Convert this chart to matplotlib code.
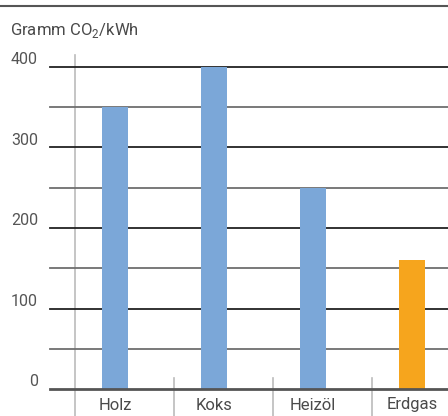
import matplotlib.pyplot as plt
from matplotlib.transforms import blended_transform_factory

# data
categories = ['Holz', 'Koks', 'Heizöl', 'Erdgas']
values = [350, 400, 250, 160]
bar_colors = ['#7ba7d8', '#7ba7d8', '#7ba7d8', '#f6a51d']
y_ticks = [0, 100, 200, 300, 400]
grid_major = [100, 200, 300, 400]
grid_minor = [50, 150, 250, 350]

W, H = 448, 416
plt.rcParams['font.family'] = ['Roboto', 'DejaVu Sans']
fig = plt.figure(figsize=(W / 100, H / 100), dpi=100)

# axes: left at px 50, right at px 448, y=0 at px 389, y=400 at px 67
ax = fig.add_axes([50 / W, (H - 389) / H, 398 / W, (389 - 67) / H])
ax.set_xlim(-0.657, 3.364)
ax.set_ylim(0, 400)
ax.axis('off')

# horizontal grid lines
for v in grid_minor:
    ax.axhline(v, color='#6e6e6e', lw=1.3, zorder=1, clip_on=False)
for v in grid_major:
    ax.axhline(v, color='#222222', lw=1.3, zorder=1, clip_on=False)
ax.axhline(0, color='#555555', lw=2.0, zorder=3, clip_on=False)

# bars
ax.bar(range(len(categories)), values, width=0.26, color=bar_colors, zorder=2)

# y tick labels
for v in y_ticks:
    ax.annotate(str(v), xy=(0, v), xycoords=('axes fraction', 'data'),
                xytext=(-8.6, 2), textcoords='offset points',
                ha='right', va='baseline', fontsize=11.5, color='#555555')

# category separators and labels
trans = blended_transform_factory(ax.transData, fig.transFigure)
ax.plot([-0.404, -0.404], [0, (H - 55) / H], transform=trans,
        color='#bbbbbb', lw=1.2, clip_on=False, zorder=0)
for i in range(1, len(categories)):
    ax.plot([i - 0.404, i - 0.404], [0, (H - 378) / H], transform=trans,
            color='#bbbbbb', lw=1.2, clip_on=False, zorder=0)
for i, c in enumerate(categories):
    ax.text(i, (H - 405) / H, c, transform=trans, ha='center', va='center',
            fontsize=12, color='#4a4a4a')

# top rule and title
fig.add_artist(plt.Line2D([0, 1], [(H - 6) / H, (H - 6) / H], color='#555555', lw=1.5))
fig.text(10 / W, (H - 31) / H, r'Gramm CO$_\mathregular{2}$/kWh', ha='left', va='center',
         fontsize=12, color='#4a4a4a')

fig.savefig('out.png', dpi=100)
